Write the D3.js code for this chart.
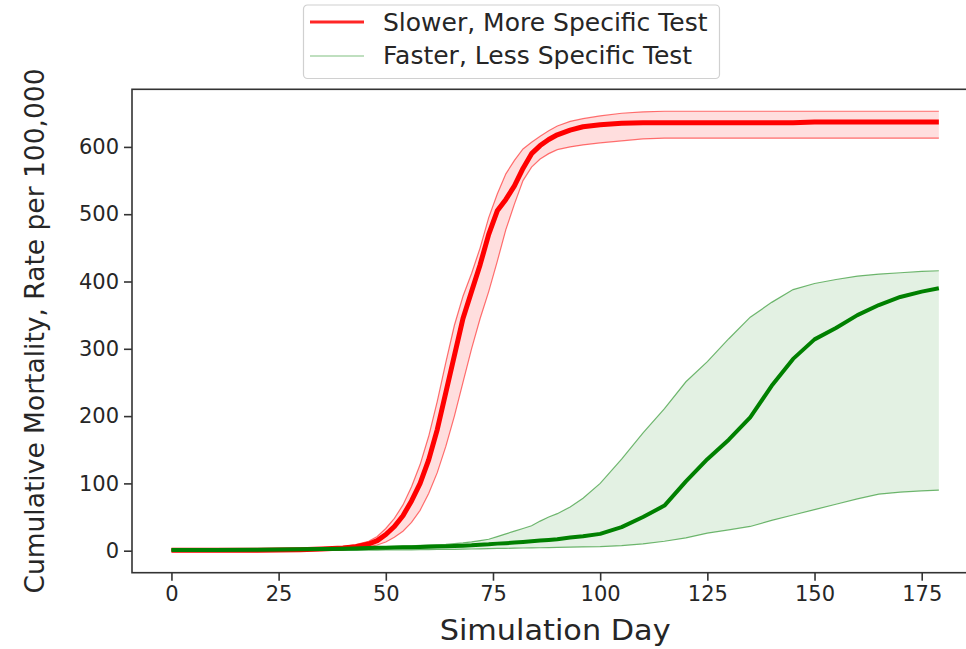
<!DOCTYPE html>
<html>
<head>
<meta charset="utf-8">
<script src="https://cdn.jsdelivr.net/npm/d3@7/dist/d3.min.js"></script>
<style>
  html, body { margin: 0; padding: 0; background: #fff; }
  svg { display: block; }
  text { font-family: "DejaVu Sans", sans-serif; fill: #262626; }
</style>
</head>
<body>
<svg id="chart" width="966" height="649"></svg>
<script>
// Sample days shared by every series
const days = [0, 10, 20, 30, 35, 40, 43, 46, 48, 50, 52, 54, 56, 58, 60, 62, 64, 66, 68, 70,
  72, 74, 76, 78, 80, 82, 84, 86, 88, 90, 93, 96, 100, 105, 110, 115, 120, 125, 130, 135,
  140, 145, 150, 155, 160, 165, 170, 175, 179];

// Slower, more specific test: mean and band
const slowMean = [0.5, 0.5, 0.8, 1.5, 2.5, 4, 6, 10, 15, 24, 36, 52, 74, 100, 135, 180, 235, 290, 345, 385,
  425, 470, 505, 522, 542, 568, 590, 602, 611, 618, 625, 630, 633, 635, 636, 636, 636, 636, 636, 636,
  636, 636, 637, 637, 637, 637, 637, 637, 637];
const slowUpper = [1.5, 1.5, 2, 3, 4, 6, 9, 14, 21, 33, 48, 68, 95, 128, 170, 222, 280, 335, 378, 412,
  450, 495, 530, 560, 580, 597, 607, 616, 624, 631, 638, 642, 646, 650, 652, 653, 653, 653, 653, 653,
  653, 653, 653, 653, 653, 653, 653, 653, 653];
const slowLower = [0, 0, 0, 0.5, 1, 2.5, 4, 6, 8.5, 13, 20, 29, 42, 60, 85, 116, 155, 200, 250, 300,
  345, 385, 430, 477, 515, 550, 570, 582, 590, 596, 600, 603, 606, 609, 612, 613, 613, 613, 613, 613,
  613, 613, 613, 613, 613, 613, 613, 613, 613];

// Faster, less specific test: mean and band
const fastMean = [1, 1, 1.5, 2, 2.5, 3, 3.3, 4, 4.2, 4.5, 4.8, 5, 5.3, 5.6, 6, 6.3, 6.7, 7, 7.5, 8,
  8.8, 9.5, 10.5, 11.2, 12, 13, 14, 15, 16, 17, 19.5, 21.5, 25, 35, 50, 67, 103, 136, 165, 198,
  245, 285, 314, 331, 350, 365, 377, 385, 390];
const fastUpper = [2, 2, 3, 3.5, 4, 4.5, 5, 5.5, 5.8, 6, 6.4, 6.8, 7.2, 7.8, 8.5, 9, 9.6, 10.5, 11.5, 13,
  15, 17, 21, 25, 29, 33, 37, 44, 50, 55, 65, 78, 100, 136, 175, 211, 251, 281, 315, 347,
  369, 388, 397, 403, 408, 411, 413, 415, 416];
const fastLower = [0, 0, 0, 0.3, 0.5, 0.5, 0.6, 0.7, 0.8, 1, 1, 1.2, 1.3, 1.5, 1.6, 1.8, 2, 2.1, 2.3, 2.5,
  2.7, 3, 3.3, 3.5, 3.7, 4, 4.2, 4.4, 4.6, 4.8, 5.2, 5.6, 6, 7.5, 10, 14, 19, 26, 31, 36,
  45, 53, 61, 69, 77, 84, 87, 89, 90];

const xTicks = [0, 25, 50, 75, 100, 125, 150, 175];
const yTicks = [0, 100, 200, 300, 400, 500, 600];
const seriesNames = ["Slower, More Specific Test", "Faster, Less Specific Test"];
const xTitle = "Simulation Day";
const yTitle = "Cumulative Mortality, Rate per 100,000";

const svg = d3.select("#chart");

// Plot frame
const frame = { left: 132, right: 978.3, top: 89.3, bottom: 572.7 };
const x = d3.scaleLinear().domain([-9.2, 188.2]).range([frame.left, frame.right]);
const y = d3.scaleLinear().domain([-32.7, 685.6]).range([frame.bottom, frame.top]);

const rows = (lo, mid, hi) => days.map((d, i) => ({ d, lo: lo[i], mid: mid[i], hi: hi[i] }));
const slow = rows(slowLower, slowMean, slowUpper);
const fast = rows(fastLower, fastMean, fastUpper);

const area = d3.area().x(r => x(r.d)).y0(r => y(r.lo)).y1(r => y(r.hi));
const lineOf = key => d3.line().x(r => x(r.d)).y(r => y(r[key]));

const plot = svg.append("g");

function drawSeries(data, color, fillOpacity, edgeOpacity, meanWidth) {
  plot.append("path").datum(data).attr("d", area)
    .attr("fill", color).attr("fill-opacity", fillOpacity).attr("stroke", "none");
  ["lo", "hi"].forEach(k => {
    plot.append("path").datum(data).attr("d", lineOf(k))
      .attr("fill", "none").attr("stroke", color).attr("stroke-opacity", edgeOpacity)
      .attr("stroke-width", 1.2);
  });
  plot.append("path").datum(data).attr("d", lineOf("mid"))
    .attr("fill", "none").attr("stroke", color).attr("stroke-width", meanWidth)
    .attr("stroke-linejoin", "round");
}

drawSeries(slow, "#ff0000", 0.13, 0.55, 5);
drawSeries(fast, "#008000", 0.11, 0.55, 4);

// Axes
const xAxis = d3.axisBottom(x).tickValues(xTicks).tickSize(8).tickPadding(5).tickFormat(d3.format("d"));
const yAxis = d3.axisLeft(y).tickValues(yTicks).tickSize(8).tickPadding(5).tickFormat(d3.format("d"));

const gx = svg.append("g").attr("transform", `translate(0,${frame.bottom})`).call(xAxis);
const gy = svg.append("g").attr("transform", `translate(${frame.left},0)`).call(yAxis);
[gx, gy].forEach(g => {
  g.select(".domain").remove();
  g.selectAll(".tick line").attr("stroke", "#333").attr("stroke-width", 1.6);
  g.selectAll(".tick text").attr("font-size", 21).attr("fill", "#262626")
    .style("font-family", "DejaVu Sans");
});

// Spines
svg.append("rect")
  .attr("x", frame.left).attr("y", frame.top)
  .attr("width", frame.right - frame.left).attr("height", frame.bottom - frame.top)
  .attr("fill", "none").attr("stroke", "#333").attr("stroke-width", 1.6);

// Axis titles
svg.append("text")
  .attr("x", (frame.left + frame.right) / 2).attr("y", 640)
  .attr("text-anchor", "middle").attr("font-size", 28)
  .attr("textLength", 231).attr("lengthAdjust", "spacingAndGlyphs").text(xTitle);
svg.append("text")
  .attr("transform", `translate(44,${(frame.top + frame.bottom) / 2}) rotate(-90)`)
  .attr("text-anchor", "middle").attr("font-size", 26.5).text(yTitle);

// Legend
const legend = svg.append("g");
legend.append("rect").attr("x", 303.5).attr("y", 5).attr("width", 416).attr("height", 73.5)
  .attr("rx", 4).attr("fill", "#fff").attr("fill-opacity", 0.85)
  .attr("stroke", "#d0d0d0").attr("stroke-width", 1.2);
const legendItems = [
  { name: seriesNames[0], color: "#ff0000", width: 3, opacity: 0.85, cy: 22, base: 31 },
  { name: seriesNames[1], color: "#008000", width: 1.2, opacity: 0.5, cy: 56, base: 63.5 }
];
legendItems.forEach(it => {
  legend.append("line").attr("x1", 310).attr("x2", 364).attr("y1", it.cy).attr("y2", it.cy)
    .attr("stroke", it.color).attr("stroke-width", it.width).attr("stroke-opacity", it.opacity);
  legend.append("text").attr("x", 383).attr("y", it.base).attr("font-size", 25).text(it.name);
});
</script>
</body>
</html>
